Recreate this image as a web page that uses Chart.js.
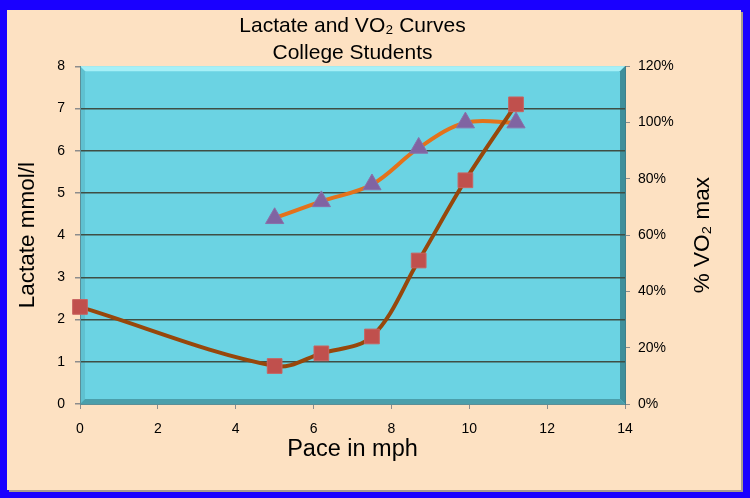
<!DOCTYPE html>
<html>
<head>
<meta charset="utf-8">
<script src="https://cdn.jsdelivr.net/npm/chart.js@4"></script>
<style>
  html, body { margin: 0; padding: 0; background: #1a00ff; }
  #wrap { width: 750px; height: 498px; }
</style>
</head>
<body>
<div id="wrap"><canvas id="chart" width="750" height="498"></canvas></div>
<script>
// values
const paceMph = [0, 5, 6.2, 7.5, 8.7, 9.9, 11.2];
const lactateMmol = [2.3, 0.9, 1.2, 1.6, 3.4, 5.3, 7.1];
const vo2Pace = [5, 6.2, 7.5, 8.7, 9.9, 11.2];
const vo2Percent = [66, 72, 78, 91, 100, 100];
const chartTitle = ['Lactate and VO\u2082 Curves', 'College Students'];
const rightTitle = '% VO\u2082 max';

const FONT = "'Liberation Sans', Arial, 'DejaVu Sans', sans-serif";

function toPoints(xs, ys) {
  return xs.map(function(x, i) { return { x: x, y: ys[i] }; });
}

// blue frame, peach panel and the bevelled cyan plot area
const backdrop = {
  id: 'backdrop',
  beforeDraw: function(chart) {
    var ctx = chart.ctx;
    var a = chart.chartArea;
    ctx.save();
    ctx.fillStyle = '#1a00ff';
    ctx.fillRect(0, 0, chart.width, chart.height);
    ctx.fillStyle = '#a89a8c';
    ctx.fillRect(9, 12, 734, 480);
    ctx.fillStyle = '#fde1c2';
    ctx.fillRect(7, 10, 734, 480);

    var b = 5;
    ctx.fillStyle = '#6bd3e3';
    ctx.fillRect(a.left, a.top, a.right - a.left, a.bottom - a.top);
    // top bevel
    ctx.fillStyle = '#a6f0f7';
    ctx.beginPath();
    ctx.moveTo(a.left, a.top); ctx.lineTo(a.right, a.top);
    ctx.lineTo(a.right - b, a.top + b); ctx.lineTo(a.left + b, a.top + b);
    ctx.fill();
    // left bevel
    ctx.fillStyle = '#5fc1d0';
    ctx.beginPath();
    ctx.moveTo(a.left, a.top); ctx.lineTo(a.left + b, a.top + b);
    ctx.lineTo(a.left + b, a.bottom - b); ctx.lineTo(a.left, a.bottom);
    ctx.fill();
    // right bevel
    ctx.fillStyle = '#3f8f9b';
    ctx.beginPath();
    ctx.moveTo(a.right, a.top); ctx.lineTo(a.right - b, a.top + b);
    ctx.lineTo(a.right - b, a.bottom - b); ctx.lineTo(a.right, a.bottom);
    ctx.fill();
    // bottom bevel
    ctx.fillStyle = '#4b9fab';
    ctx.beginPath();
    ctx.moveTo(a.left, a.bottom); ctx.lineTo(a.left + b, a.bottom - b);
    ctx.lineTo(a.right - b, a.bottom - b); ctx.lineTo(a.right, a.bottom);
    ctx.fill();
    ctx.restore();
  },
  // right axis title reads bottom-to-top in the original
  afterDraw: function(chart) {
    var ctx = chart.ctx;
    var s = chart.scales.y2;
    ctx.save();
    ctx.translate(703, (s.top + s.bottom) / 2);
    ctx.rotate(-Math.PI / 2);
    ctx.fillStyle = '#000';
    ctx.font = '22.5px ' + FONT;
    ctx.textAlign = 'center';
    ctx.textBaseline = 'middle';
    ctx.fillText(rightTitle, 0, 0);
    ctx.restore();
  }
};

new Chart(document.getElementById('chart'), {
  type: 'line',
  data: {
    datasets: [
      {
        label: 'Lactate',
        data: toPoints(paceMph, lactateMmol),
        yAxisID: 'y',
        clip: false,
        borderColor: '#97470b',
        borderWidth: 4,
        tension: 0.35,
        pointStyle: 'rect',
        pointRadius: 10.4,
        pointBackgroundColor: '#c0504d',
        pointBorderColor: '#c96360',
        pointBorderWidth: 1,
      },
      {
        label: 'VO2',
        data: toPoints(vo2Pace, vo2Percent),
        yAxisID: 'y2',
        clip: false,
        borderColor: '#e3721b',
        borderWidth: 4,
        tension: 0.35,
        pointStyle: 'triangle',
        pointRadius: 10.5,
        pointBackgroundColor: '#8064a2',
        pointBorderColor: '#8a70aa',
        pointBorderWidth: 1,
      },
    ],
  },
  options: {
    responsive: false,
    animation: false,
    devicePixelRatio: 1,
    layout: { padding: { left: 10, right: 20, top: 0, bottom: 10 } },
    plugins: {
      legend: { display: false },
      tooltip: { enabled: false },
      title: {
        display: true,
        fullSize: false,
        text: chartTitle,
        color: '#000',
        font: { family: FONT, size: 21, weight: 'normal', lineHeight: 1.27 },
        padding: { top: 13, bottom: 0 },
      },
    },
    scales: {
      x: {
        type: 'linear',
        min: 0, max: 14,
        ticks: { stepSize: 2, color: '#000', padding: 12, font: { family: FONT, size: 14 } },
        grid: { drawOnChartArea: false, tickLength: 5, color: '#8c8c8c' },
        border: { color: '#5b8f98' },
        title: {
          display: true, text: 'Pace in mph', color: '#000',
          font: { family: FONT, size: 23.5 }, padding: { top: 0, bottom: 24 },
        },
        afterFit: function(s) { s.height = 84; },
      },
      y: {
        position: 'left',
        min: 0, max: 8,
        ticks: { stepSize: 1, color: '#000', padding: 10, font: { family: FONT, size: 14 } },
        grid: {
          tickLength: 5,
          lineWidth: 1.5,
          color: function(c) {
            var v = c.tick ? c.tick.value : 0;
            return (v === 0 || v === 8) ? 'rgba(0,0,0,0)' : '#3f4e44';
          },
          tickColor: '#8c8c8c',
        },
        border: { color: '#5b8f98' },
        title: {
          display: true, text: 'Lactate mmol/l', color: '#000',
          font: { family: FONT, size: 22.5 }, padding: { top: 4, bottom: 0 },
        },
        afterFit: function(s) { s.width = 70; },
      },
      y2: {
        position: 'right',
        min: 0, max: 120,
        ticks: {
          stepSize: 20, color: '#000', padding: 8, font: { family: FONT, size: 14 },
          callback: function(v) { return v + '%'; },
        },
        grid: { drawOnChartArea: false, tickLength: 5, color: '#8c8c8c' },
        border: { color: '#3f7f8a' },
        title: { display: false },
        afterFit: function(s) { s.width = 105; },
      },
    },
  },
  plugins: [backdrop],
});
</script>
</body>
</html>
